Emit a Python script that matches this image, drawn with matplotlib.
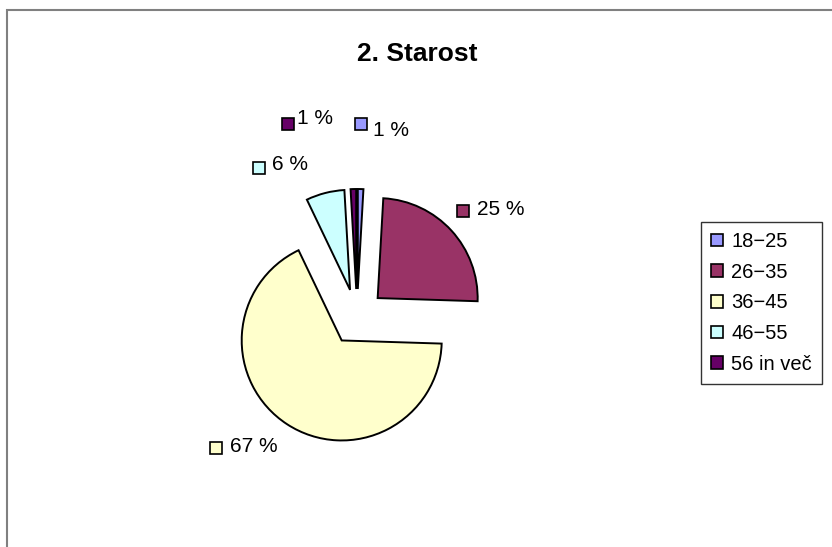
import matplotlib.pyplot as plt
from matplotlib.patches import Patch, Rectangle

plt.rcParams['font.family'] = ['Liberation Sans', 'DejaVu Sans']

categories = ['18\u221225', '26\u221235', '36\u221245', '46\u221255', '56 in več']
# shares; labels show them rounded
shares = [0.9, 24.6, 67.4, 6.2, 0.9]
colors = ['#9999FF', '#993366', '#FFFFCC', '#CCFFFF', '#660066']

# label square / text offsets from the pie centre, in pie radii (layout only)
label_box = [(0.04, 1.93), (1.06, 1.06), (-1.41, -1.31), (-0.98, 1.49), (-0.69, 1.93)]
label_txt = [(0.16, 1.87), (1.20, 1.075), (-1.27, -1.29), (-0.85, 1.53), (-0.60, 1.98)]

W, H = 832, 547
fig = plt.figure(figsize=(W / 100, H / 100), dpi=100)

# outer chart-area border (only top and left visible)
fig.patches.append(Rectangle((7 / W, -0.1), 1.2, (H - 10) / H + 0.1,
                             transform=fig.transFigure, fill=False,
                             edgecolor='#808080', linewidth=1.5))

cx, cy = 357, H - 317
half = 200
ax = fig.add_axes([(cx - half) / W, (cy - half) / H, 2 * half / W, 2 * half / H])

wedges, _ = ax.pie(shares, colors=colors, startangle=90, counterclock=False,
                   explode=[0.28] * len(shares), radius=1,
                   wedgeprops=dict(edgecolor='black', linewidth=1.4))
ax.set_xlim(-2, 2)
ax.set_ylim(-2, 2)
ax.axis('off')

for i, s in enumerate(shares):
    bx, by = label_box[i]
    tx, ty = label_txt[i]
    ax.plot(bx, by, marker='s', markersize=8.2, markerfacecolor=colors[i],
            markeredgecolor='black', markeredgewidth=1.2, clip_on=False)
    ax.text(tx, ty, f'{s:.0f} %', fontsize=15, ha='left', va='center')

fig.text(417 / W, 1 - 54 / H, '2. Starost', fontsize=19, fontweight='bold',
         ha='center', va='center')

handles = [Patch(facecolor=c, edgecolor='black', linewidth=1.2) for c in colors]
leg = fig.legend(handles, categories, loc='upper left',
                 bbox_to_anchor=(701 / W, 1 - 222 / H), fontsize=14.5,
                 frameon=True, fancybox=False, edgecolor='black',
                 handlelength=0.6, handleheight=0.6, handletextpad=0.4,
                 labelspacing=0.58, borderpad=0.5, borderaxespad=0)
leg.get_frame().set_linewidth(1.0)

fig.savefig('out.png', dpi=100)
